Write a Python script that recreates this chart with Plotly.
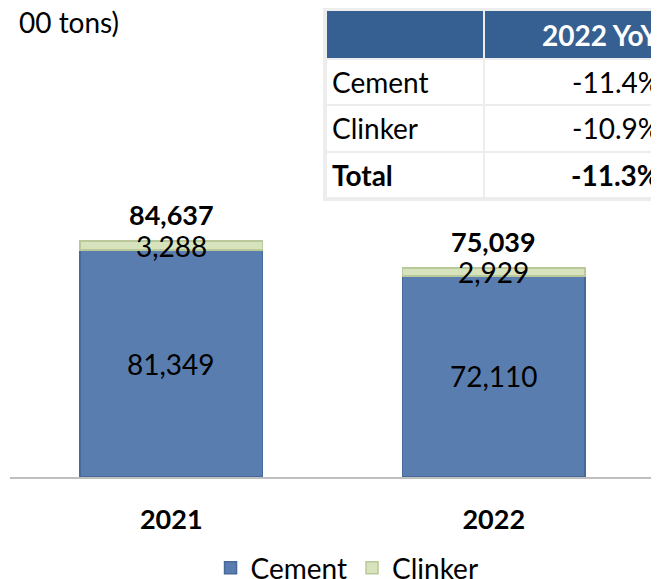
import plotly.graph_objects as go

# sales volume, 1,000 tons
years = ['2021', '2022']
cement = [81349, 72110]
clinker = [3288, 2929]
totals = [84637, 75039]

# yoy table
tbl_header = ['', '2022 YoY']
tbl_rows = ['Cement', 'Clinker', 'Total']
tbl_yoy = ['-11.4%', '-10.9%', '-11.3%']

FONT = 'Lato'
BLUE = '#5A7DAF'
GREEN = '#D6E3BC'
HEAD = '#376092'

W, H = 659, 579
OFF = 8  # page body margin
ML, MT, MB = 2, 0, 110


def px_x(p):
    # screen pixel -> paper x
    return (p - OFF - ML) / (W - ML)


def px_y(p):
    # screen pixel -> paper y
    return (H - MB - (p - OFF)) / (H - MT - MB)


fig = go.Figure()

fig.add_trace(go.Bar(x=years, y=cement, name='Cement',
                     marker=dict(color=BLUE, line=dict(color='#47689A', width=1.5))))
fig.add_trace(go.Bar(x=years, y=clinker, name='Clinker',
                     marker=dict(color=GREEN, line=dict(color='#B9C99A', width=1.5))))

# bar labels (x given as category index, '2021' would be read as a number)
for i, yr in enumerate(years):
    fig.add_annotation(x=i, y=cement[i] / 2, text=f'{cement[i]:,}', showarrow=False,
                       font=dict(family=FONT, size=28, color='black'))
    fig.add_annotation(x=i, y=cement[i] + clinker[i] / 2, text=f'{clinker[i]:,}',
                       showarrow=False, font=dict(family=FONT, size=28, color='black'))
    fig.add_annotation(x=i, y=totals[i], text=f'<b>{totals[i]:,}</b>', showarrow=False,
                       yanchor='bottom', yshift=8,
                       font=dict(family=FONT, size=27, color='black'))

# unit label (cut at the left edge in the original)
fig.add_annotation(xref='paper', yref='paper', x=px_x(121), y=px_y(22), xanchor='right',
                   yanchor='middle', text='00 tons)', showarrow=False,
                   font=dict(family=FONT, size=28, color='black'))

# yoy table drawn with shapes
col_x = [326, 484, 680]
row_y = [10, 59, 105, 152, 198]
fig.add_shape(type='rect', xref='paper', yref='paper',
              x0=px_x(col_x[0] - 3), x1=px_x(col_x[-1]), y0=px_y(row_y[0] - 3), y1=px_y(row_y[-1] + 3),
              fillcolor='#EDEDED', line_width=0, layer='below')
labels = [tbl_header] + [[a, b] for a, b in zip(tbl_rows, tbl_yoy)]
for r in range(len(row_y) - 1):
    for c in range(2):
        fig.add_shape(type='rect', xref='paper', yref='paper',
                      x0=px_x(col_x[c] + 1), x1=px_x(col_x[c + 1] - 1),
                      y0=px_y(row_y[r] + 1), y1=px_y(row_y[r + 1] - 1),
                      fillcolor=HEAD if r == 0 else 'white', line_width=0, layer='below')
        txt = labels[r][c]
        if not txt:
            continue
        bold = r == 0 or r == len(row_y) - 2
        fig.add_annotation(xref='paper', yref='paper',
                           x=px_x(col_x[0] + 4) if c == 0 else px_x(662),
                           xanchor='left' if c == 0 else 'right',
                           y=px_y((row_y[r] + row_y[r + 1]) / 2), yanchor='middle',
                           text=f'<b>{txt}</b>' if bold else txt, showarrow=False,
                           font=dict(family=FONT, size=28,
                                     color='white' if r == 0 else 'black'))

fig.update_layout(
    width=W, height=H,
    margin=dict(l=ML, r=0, t=MT, b=MB, autoexpand=False),
    barmode='stack', bargap=0.433,
    plot_bgcolor='white', paper_bgcolor='white',
    font=dict(family=FONT, color='black'),
    showlegend=True,
    legend=dict(orientation='h', x=0.513, xanchor='center', y=px_y(568), yanchor='middle',
                font=dict(family=FONT, size=28), traceorder='normal'),
    xaxis=dict(type='category', domain=[0, 0.9817], showline=True, linecolor='#BFBFBF',
               linewidth=1.5, ticks='', ticklabelstandoff=18, automargin=False,
               tickfont=dict(family=FONT, size=27, color='black', weight='bold')),
    yaxis=dict(range=[0, 168200], visible=False, showgrid=False),
)

fig.write_html('out.html')
